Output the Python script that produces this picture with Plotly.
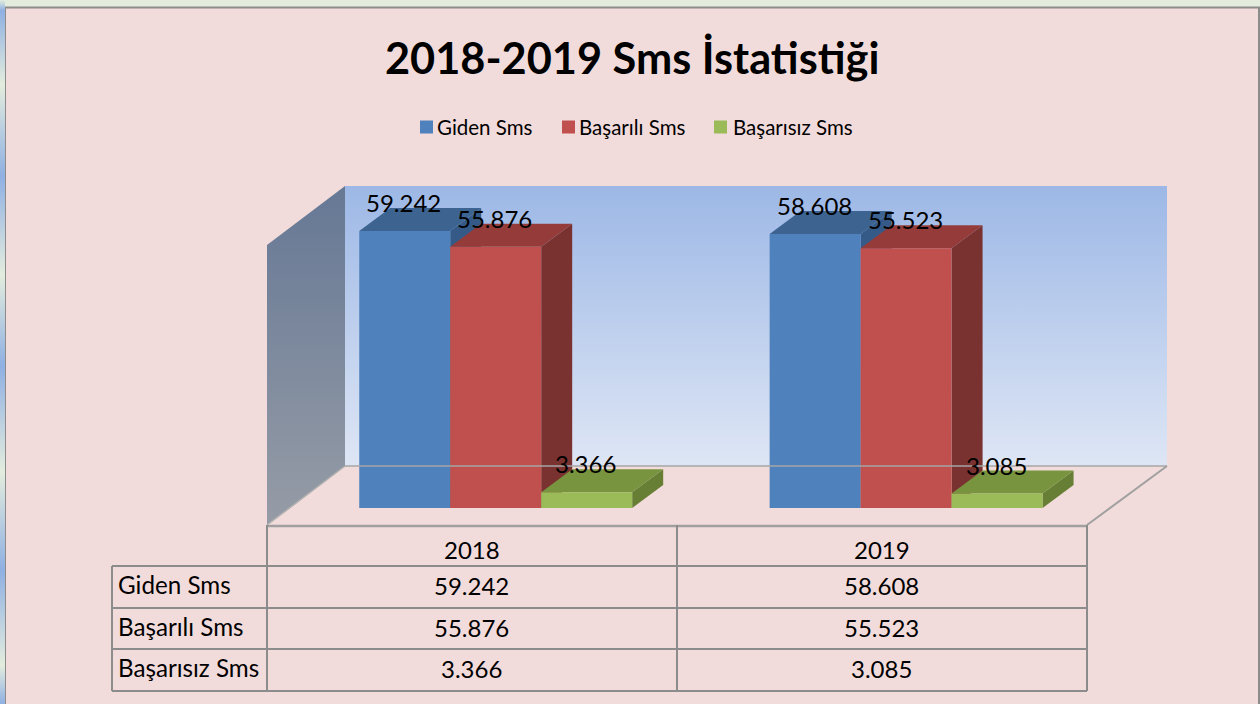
import plotly.graph_objects as go

# ---- data ----
years = ["2018", "2019"]
series_names = ["Giden Sms", "Başarılı Sms", "Başarısız Sms"]
giden = [59242, 58608]
basarili = [55876, 55523]
basarisiz = [3366, 3085]
title_text = "2018-2019 Sms İstatistiği"

# ---- styles ----
W, H = 1260, 704
FONT = "Lato"
BG = "#F2DCDB"
FRONT = ["#4F81BD", "#C0504D", "#9BBB59"]
TOP = ["#3D6391", "#953C3A", "#78943F"]
SIDE = ["#355A87", "#7A3230", "#667F35"]
GRID = "#8C8C8C"

# axis calibration (pixels of the page)
BASE_PX, PX_PER_UNIT = 508.0, 0.004676
CAT0_PX, CAT_STEP_PX = 495.7, 410.4
GROUP_W = 0.665
BAR_W = GROUP_W / 3
DX_PX, DY_PX = 31.0, 23.0


def xval(px):
    return (px - CAT0_PX) / CAT_STEP_PX


def yval(py):
    return (BASE_PX - py) / PX_PER_UNIT


def xp(px):
    return px / W


def yp(py):
    return 1 - py / H


DX, DY = DX_PX / CAT_STEP_PX, DY_PX / PX_PER_UNIT
cats = [0, 1]
values = [giden, basarili, basarisiz]


def poly(pts, **kw):
    xs = [xval(p[0]) for p in pts] + [xval(pts[0][0])]
    ys = [yval(p[1]) for p in pts] + [yval(pts[0][1])]
    return go.Scatter(x=xs, y=ys, mode="lines", fill="toself", hoverinfo="skip",
                      showlegend=False, **kw)


fig = go.Figure()

# outer strip and panel
BLUE_S, PALE_S = "#8FB0E2", "#E3ECDD"
fig.add_trace(poly([(0, 0), (5, 0), (5, H), (0, H)], line=dict(width=0),
                   fillgradient=dict(type="vertical", colorscale=[
                       [0, BLUE_S], [0.055, PALE_S], [0.19, BLUE_S], [0.33, PALE_S],
                       [0.48, BLUE_S], [0.61, PALE_S], [0.75, BLUE_S], [0.88, PALE_S],
                       [0.985, BLUE_S], [1, PALE_S]])))

# back wall, left wall, floor
fig.add_trace(poly([(345, 186), (1167, 186), (1167, 466), (345, 466)],
                   line=dict(width=0),
                   fillgradient=dict(type="vertical", colorscale=[
                       [0, "#DEE6F5"], [1, "#9DB8E6"]])))
fig.add_trace(poly([(267, 245), (345, 186), (345, 466), (267, 525)],
                   line=dict(width=0),
                   fillgradient=dict(type="vertical", colorscale=[
                       [0, "#969CA6"], [1, "#667895"]])))

# depth faces, computed from the values
for s, vals in enumerate(values):
    for c, v in zip(cats, vals):
        x0 = c + (s - 1.5) * BAR_W
        x1 = x0 + BAR_W
        side_x = [x1, x1 + DX, x1 + DX, x1, x1]
        side_y = [0, DY, v + DY, v, 0]
        top_x = [x0, x1, x1 + DX, x0 + DX, x0]
        top_y = [v, v, v + DY, v + DY, v]
        for fx, fy, col in ((side_x, side_y, SIDE[s]), (top_x, top_y, TOP[s])):
            fig.add_trace(go.Scatter(x=fx, y=fy, mode="lines", fill="toself",
                                     fillcolor=col, line=dict(width=0),
                                     hoverinfo="skip", showlegend=False))

# front faces
for s, vals in enumerate(values):
    fig.add_trace(go.Bar(x=cats, y=vals, name=series_names[s], marker_color=FRONT[s],
                         marker_line_width=0, xaxis="x2", yaxis="y2", showlegend=False))

# legend (swatches on the overlay axes)
legend_px = [420, 562, 714]
for s, lx in enumerate(legend_px):
    fig.add_trace(go.Scatter(x=[xval(lx + 6.5)], y=[yval(127)], mode="markers",
                             marker=dict(symbol="square", size=13, color=FRONT[s]),
                             xaxis="x2", yaxis="y2", showlegend=False, hoverinfo="skip"))

shapes = []


def line(x0, y0, x1, y1, width=2, color=GRID):
    shapes.append(dict(type="line", xref="paper", yref="paper", x0=xp(x0), y0=yp(y0),
                       x1=xp(x1), y1=yp(y1), line=dict(color=color, width=width)))


# panel (below traces)
shapes.append(dict(type="rect", xref="paper", yref="paper", layer="below", x0=xp(5), y0=-0.01,
                   x1=xp(1259), y1=yp(7.5), fillcolor=BG, line=dict(color=GRID, width=2)))

# floor edges and table grid
line(345, 466, 1167, 466, 1.5, "#A6A6A6")
line(1167, 466, 1087, 525, 2, "#A0A0A0")
line(267, 525, 345, 466, 1.5, "#B0B0B0")
line(267, 526, 1087, 526, 2.5, "#A0A0A0")
for ly in (566, 608, 649, 691):
    line(112, ly, 1087, ly)
line(112, 566, 112, 691)
for lx in (267, 677, 1087):
    line(lx, 525, lx, 691)

ann = []


def text(x, y, s, size, anchor="center", bold=False):
    ann.append(dict(xref="paper", yref="paper", x=xp(x), y=yp(y), text=f"<b>{s}</b>" if bold else s,
                    showarrow=False, xanchor=anchor, yanchor="middle",
                    font=dict(family=FONT, size=size, color="#000000")))


def fmt(v):
    return f"{v:,}".replace(",", ".")


text(632, 57.5, title_text, 43.3, bold=True)
for name, lx, off in zip(series_names, legend_px, (15, 15, 17)):
    text(lx + off, 126.5, name, 20.5, "left")

# data labels
for s, vals in enumerate(values):
    for c, v in zip(cats, vals):
        ann.append(dict(xref="x2", yref="y2", x=c + (s - 1) * BAR_W - 0.002, y=v, yshift=28.5,
                        text=fmt(v), showarrow=False, xanchor="center", yanchor="middle",
                        font=dict(family=FONT, size=24, color="#000000")))

# data table
col_px = [471.5, 881.5]
row_px = [585.5, 627.5, 668.5]
for year, cx in zip(years, col_px):
    text(cx + 0.5, 549.5, year, 24)
for name, vals, ry in zip(series_names, values, row_px):
    text(115.5, ry - 1, name, 24.2, "left")
    for v, cx in zip(vals, col_px):
        text(cx, ry, fmt(v), 24)

xr = [xval(0), xval(W)]
yr = [yval(H), yval(0)]
axis_off = dict(visible=False, showgrid=False, zeroline=False, fixedrange=True)
fig.update_layout(
    width=W, height=H, autosize=False,
    margin=dict(l=0, r=0, t=0, b=0, pad=0),
    paper_bgcolor="#E3ECDD", plot_bgcolor="rgba(0,0,0,0)",
    barmode="group", bargap=1 - GROUP_W, bargroupgap=0,
    showlegend=False,
    xaxis=dict(range=xr, domain=[0, 1], **axis_off),
    yaxis=dict(range=yr, domain=[0, 1], **axis_off),
    xaxis2=dict(range=xr, overlaying="x", anchor="y2", **axis_off),
    yaxis2=dict(range=yr, overlaying="y", anchor="x2", **axis_off),
    shapes=shapes, annotations=ann,
)
fig.write_html("out.html", config=dict(displayModeBar=False),
               post_script="document.body.style.margin='0';document.documentElement.style.overflow='hidden';")
